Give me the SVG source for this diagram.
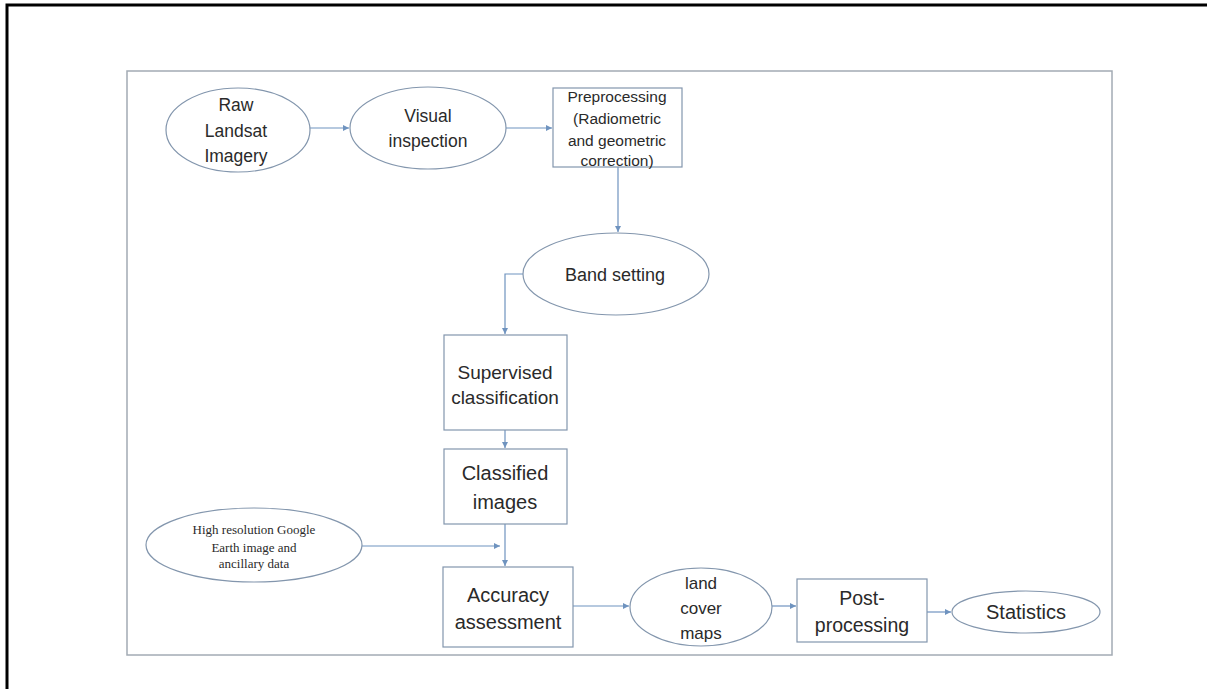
<svg xmlns="http://www.w3.org/2000/svg" width="1207" height="689" viewBox="0 0 1207 689">
<defs>
<style>
.nd{fill:#ffffff;stroke:#8396ad;stroke-width:1.2}
.t{font-family:"Liberation Sans",Arial,sans-serif;fill:#2a2a2a;text-anchor:middle}
.s{font-family:"Liberation Serif","Times New Roman",serif;fill:#2a2a2a;text-anchor:middle;font-size:13px}
.c{fill:none;stroke:#6f93bf;stroke-width:1.2}
</style>
<marker id="ah" markerWidth="8" markerHeight="8" refX="6" refY="3" orient="auto" markerUnits="userSpaceOnUse">
<path d="M0,0 L6,3 L0,6 Z" fill="#6f93bf"/>
</marker>
</defs>
<rect width="1207" height="689" fill="#ffffff"/>
<path d="M7,689 V5 H1207" fill="none" stroke="#000" stroke-width="3"/>
<rect x="127" y="71" width="985" height="584" fill="none" stroke="#a3abb4" stroke-width="1.5"/>

<g id="connectors">
<path class="c" d="M310,128 H349" marker-end="url(#ah)"/>
<path class="c" d="M506,128 H552" marker-end="url(#ah)"/>
<path class="c" d="M618,167 V232" marker-end="url(#ah)"/>
<path class="c" d="M523,274 H505 V334" marker-end="url(#ah)"/>
<path class="c" d="M505,430 V448" marker-end="url(#ah)"/>
<path class="c" d="M505,524 V566" marker-end="url(#ah)"/>
<path class="c" d="M362,546 H500" marker-end="url(#ah)"/>
<path class="c" d="M573,606 H629" marker-end="url(#ah)"/>
<path class="c" d="M772,606 H796" marker-end="url(#ah)"/>
<path class="c" d="M927,612 H951" marker-end="url(#ah)"/>
</g>

<g id="raw">
<ellipse class="nd" cx="238" cy="130" rx="72" ry="42"/>
<text class="t" font-size="17.5" x="236" y="111">Raw</text>
<text class="t" font-size="17.5" x="236" y="137">Landsat</text>
<text class="t" font-size="17.5" x="236" y="162">Imagery</text>
</g>

<g id="visual">
<ellipse class="nd" cx="428" cy="128" rx="78" ry="41"/>
<text class="t" font-size="17.5" x="428" y="122">Visual</text>
<text class="t" font-size="17.5" x="428" y="147">inspection</text>
</g>

<g id="preprocessing">
<rect class="nd" x="553" y="88" width="129" height="79"/>
<text class="t" font-size="15.5" x="617" y="102">Preprocessing</text>
<text class="t" font-size="15.5" x="617" y="124">(Radiometric</text>
<text class="t" font-size="15.5" x="617" y="146">and geometric</text>
<text class="t" font-size="15.5" x="617" y="166">correction)</text>
</g>

<g id="band">
<ellipse class="nd" cx="616" cy="274" rx="93" ry="41"/>
<text class="t" font-size="18" x="615" y="281">Band setting</text>
</g>

<g id="supervised">
<rect class="nd" x="444" y="335" width="123" height="95"/>
<text class="t" font-size="19" x="505" y="379">Supervised</text>
<text class="t" font-size="19" x="505" y="404">classification</text>
</g>

<g id="classified">
<rect class="nd" x="444" y="449" width="123" height="75"/>
<text class="t" font-size="20" x="505" y="480">Classified</text>
<text class="t" font-size="20" x="505" y="509">images</text>
</g>

<g id="highres">
<ellipse class="nd" cx="254" cy="545" rx="108" ry="37"/>
<text class="s" x="254" y="534">High resolution Google</text>
<text class="s" x="254" y="552">Earth image and</text>
<text class="s" x="254" y="568">ancillary data</text>
</g>

<g id="accuracy">
<rect class="nd" x="443" y="567" width="130" height="80"/>
<text class="t" font-size="20" x="508" y="602">Accuracy</text>
<text class="t" font-size="20" x="508" y="629">assessment</text>
</g>

<g id="landcover">
<ellipse class="nd" cx="701" cy="607" rx="71" ry="39"/>
<text class="t" font-size="17" x="701" y="589">land</text>
<text class="t" font-size="17" x="701" y="614">cover</text>
<text class="t" font-size="17" x="701" y="639">maps</text>
</g>

<g id="post">
<rect class="nd" x="797" y="579" width="130" height="63"/>
<text class="t" font-size="19.5" x="862" y="605">Post-</text>
<text class="t" font-size="19.5" x="862" y="632">processing</text>
</g>

<g id="statistics">
<ellipse class="nd" cx="1026" cy="612" rx="74" ry="21"/>
<text class="t" font-size="20" x="1026" y="619">Statistics</text>
</g>
</svg>
